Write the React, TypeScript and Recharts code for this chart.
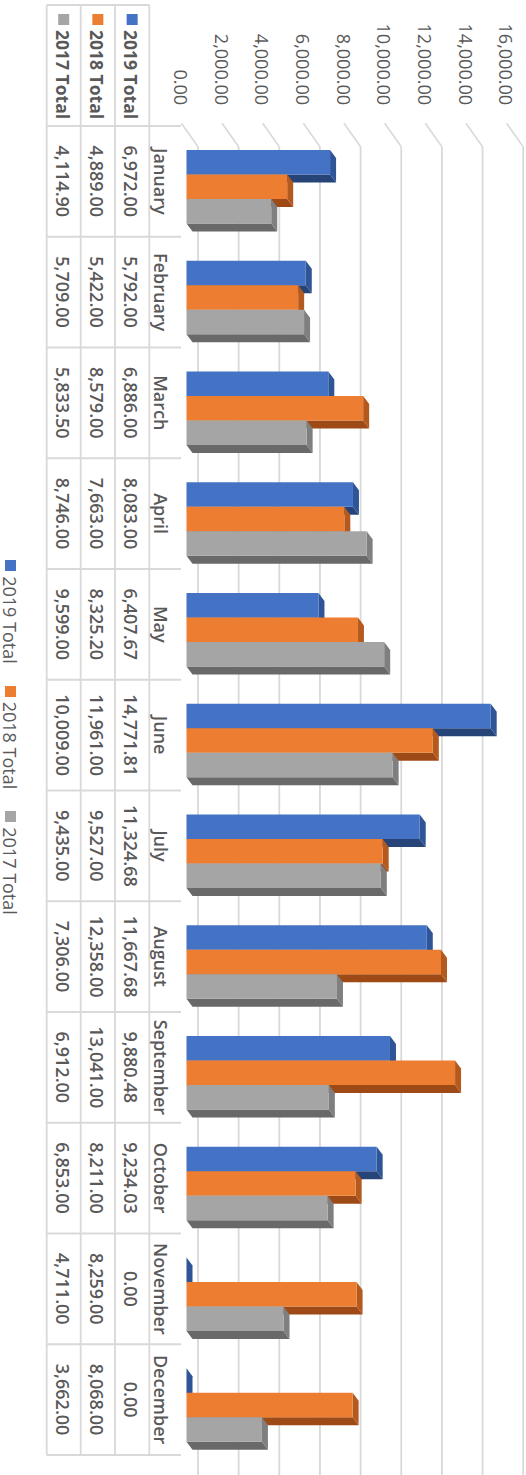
import React from 'react';
import { BarChart, Bar, XAxis, YAxis, CartesianGrid } from 'recharts';

// ---- data ----
const months = ['January', 'February', 'March', 'April', 'May', 'June', 'July', 'August', 'September', 'October', 'November', 'December'];
const total2019 = [6972.0, 5792.0, 6886.0, 8083.0, 6407.67, 14771.81, 11324.68, 11667.68, 9880.48, 9234.03, 0.0, 0.0];
const total2018 = [4889.0, 5422.0, 8579.0, 7663.0, 8325.2, 11961.0, 9527.0, 12358.0, 13041.0, 8211.0, 8259.0, 8068.0];
const total2017 = [4114.9, 5709.0, 5833.5, 8746.0, 9599.0, 10009.0, 9435.0, 7306.0, 6912.0, 6853.0, 4711.0, 3662.0];
const seriesNames = ['2019 Total', '2018 Total', '2017 Total'];
const valueTicks = [0, 2000, 4000, 6000, 8000, 10000, 12000, 14000, 16000];

const data = months.map((m, i) => ({ month: m, y2019: total2019[i], y2018: total2018[i], y2017: total2017[i] }));
const seriesValues = [total2019, total2018, total2017];
const seriesKeys = ['y2019', 'y2018', 'y2017'];
const frontColors = ['#4472C4', '#ED7D31', '#A5A5A5'];
const topColors = ['#2F5597', '#B55A1E', '#7F7F7F'];
const sideColors = ['#264478', '#9E4A17', '#696969'];

// ---- layout (unrotated chart: 1475 x 526, then rotated 90deg clockwise) ----
const W = 1475;
const H = 526;
const YAXIS_W = 100;
const XAXIS_H = 140;
const MARGIN = { top: 10, right: 20, bottom: 46.5, left: 26 };
const PLOT_LEFT = MARGIN.left + YAXIS_W;
const PLOT_RIGHT = W - MARGIN.right;
const PLOT_BOTTOM = H - MARGIN.bottom - XAXIS_H;
const PLOT_H = PLOT_BOTTOM - MARGIN.top;
const BAND = (PLOT_RIGHT - PLOT_LEFT) / months.length;
const SHIFT = 5;
const DX = 8;
const DY = -6;
const GRID0 = 328;
const GRID_SPAN = 325.2;
const GRID_COLOR = '#D9D9D9';
const TEXT_COLOR = '#595959';
const FONT = '"Open Sans", "Noto Sans", Arial, sans-serif';
const ROW_LINES = [376.7, 411, 445.3, 479.3];
const CAT_TOP = 345;
const TABLE_LEFT = 5;

const fmt = (v: number) => {
  const [i, d] = v.toFixed(2).split('.');
  return i.replace(/\B(?=(\d{3})+(?!\d))/g, ',') + '.' + d;
};

const gridY = (y: number) => {
  const f = (PLOT_BOTTOM - y) / PLOT_H;
  return GRID0 - f * GRID_SPAN;
};

const makeShape = (s: number) => (props: any) => {
  const { x, y, width, height } = props;
  if (x == null || y == null) return <g />;
  const X = x + SHIFT;
  const w = width;
  const h = height || 0;
  return (
    <g>
      <polygon
        points={`${X + w},${y} ${X + w + DX},${y + DY} ${X + w + DX},${y + h + DY} ${X + w},${y + h}`}
        fill={sideColors[s]}
      />
      <polygon points={`${X},${y} ${X + w},${y} ${X + w + DX},${y + DY} ${X + DX},${y + DY}`} fill={topColors[s]} />
      <rect x={X} y={y} width={w} height={h} fill={frontColors[s]} />
    </g>
  );
};

const gridLine = (props: any) => {
  const yg = gridY(props.y1);
  return (
    <g key={`g-${props.index}-${props.y1}`}>
      <line x1={123.3} y1={yg + 16.6} x2={146.7} y2={yg} stroke={GRID_COLOR} strokeWidth={1.6} />
      <line x1={146.7} y1={yg} x2={W} y2={yg} stroke={GRID_COLOR} strokeWidth={1.8} />
    </g>
  );
};

const YTick = (props: any) => {
  const { y, payload } = props;
  const yg = gridY(y);
  return (
    <text
      x={105}
      y={yg + 17}
      textAnchor="end"
      dominantBaseline="central"
      fontSize={18}
      fontFamily={FONT}
      fill={TEXT_COLOR}
    >
      {fmt(payload.value)}
    </text>
  );
};

const Header = () => (
  <g>
    {ROW_LINES.map((ry) => (
      <line key={ry} x1={TABLE_LEFT} y1={ry} x2={PLOT_RIGHT} y2={ry} stroke={GRID_COLOR} strokeWidth={1.8} />
    ))}
    <line x1={TABLE_LEFT} y1={ROW_LINES[0]} x2={TABLE_LEFT} y2={ROW_LINES[3]} stroke={GRID_COLOR} strokeWidth={1.8} />
    {seriesNames.map((n, r) => {
      const cy = (ROW_LINES[r] + ROW_LINES[r + 1]) / 2;
      return (
        <g key={n}>
          <rect x={14} y={cy - 5.5} width={11} height={11} fill={frontColors[r]} />
          <text
            x={30}
            y={cy + 1}
            dominantBaseline="central"
            fontSize={17.5}
            fontWeight="bold"
            fontFamily={FONT}
            fill={TEXT_COLOR}
          >
            {n}
          </text>
        </g>
      );
    })}
  </g>
);

const XTick = (props: any) => {
  const { x, payload } = props;
  const i = months.indexOf(payload.value);
  const left = x - BAND / 2;
  const right = x + BAND / 2;
  return (
    <g>
      {i === 0 && <Header />}
      <line x1={left} y1={CAT_TOP} x2={left} y2={ROW_LINES[3]} stroke={GRID_COLOR} strokeWidth={1.8} />
      {i === months.length - 1 && (
        <line x1={right} y1={CAT_TOP} x2={right} y2={ROW_LINES[3]} stroke={GRID_COLOR} strokeWidth={1.8} />
      )}
      <text x={x} y={372} textAnchor="middle" fontSize={18} fontWeight={600} fontFamily={FONT} fill={TEXT_COLOR}>
        {payload.value}
      </text>
      {seriesValues.map((arr, r) => (
        <text
          key={r}
          x={x}
          y={(ROW_LINES[r] + ROW_LINES[r + 1]) / 2 + 1}
          textAnchor="middle"
          dominantBaseline="central"
          fontSize={18}
          fontWeight={600}
          fontFamily={FONT}
          fill={TEXT_COLOR}
        >
          {fmt(arr[i])}
        </text>
      ))}
    </g>
  );
};

export default function App() {
  return (
    <div style={{ position: 'absolute', left: 0, top: 0, width: 526, height: 1475, overflow: 'hidden', background: '#fff' }}>
      <div
        style={{
          position: 'absolute',
          left: 0,
          top: 0,
          width: W,
          height: H,
          transformOrigin: '0 0',
          transform: 'translate(526px, 0px) rotate(90deg)',
          background: '#fff',
        }}
      >
        <BarChart width={W} height={H} data={data} margin={MARGIN} barGap={0} barSize={24.5}>
          <CartesianGrid vertical={false} horizontal={gridLine} />
          <XAxis dataKey="month" height={XAXIS_H} axisLine={false} tickLine={false} tick={XTick} interval={0} />
          <YAxis
            type="number"
            domain={[0, 16000]}
            ticks={valueTicks}
            width={YAXIS_W}
            axisLine={false}
            tickLine={false}
            tick={YTick}
            interval={0}
          />
          {seriesKeys.map((k, s) => (
            <Bar key={k} dataKey={k} name={seriesNames[s]} fill={frontColors[s]} isAnimationActive={false} shape={makeShape(s)} />
          ))}
        </BarChart>
        <div
          style={{
            position: 'absolute',
            left: 0,
            top: 506.5,
            width: W,
            height: 18,
            display: 'flex',
            justifyContent: 'center',
            alignItems: 'center',
            fontFamily: FONT,
            fontSize: 18,
            lineHeight: '18px',
            color: TEXT_COLOR,
          }}
        >
          {seriesNames.map((n, s) => (
            <div key={n} style={{ display: 'flex', alignItems: 'center', marginLeft: s === 0 ? 0 : 22 }}>
              <span style={{ display: 'inline-block', width: 11, height: 11, background: frontColors[s], marginRight: 5 }} />
              <span style={{ whiteSpace: 'nowrap' }}>{n}</span>
            </div>
          ))}
        </div>
      </div>
    </div>
  );
}
